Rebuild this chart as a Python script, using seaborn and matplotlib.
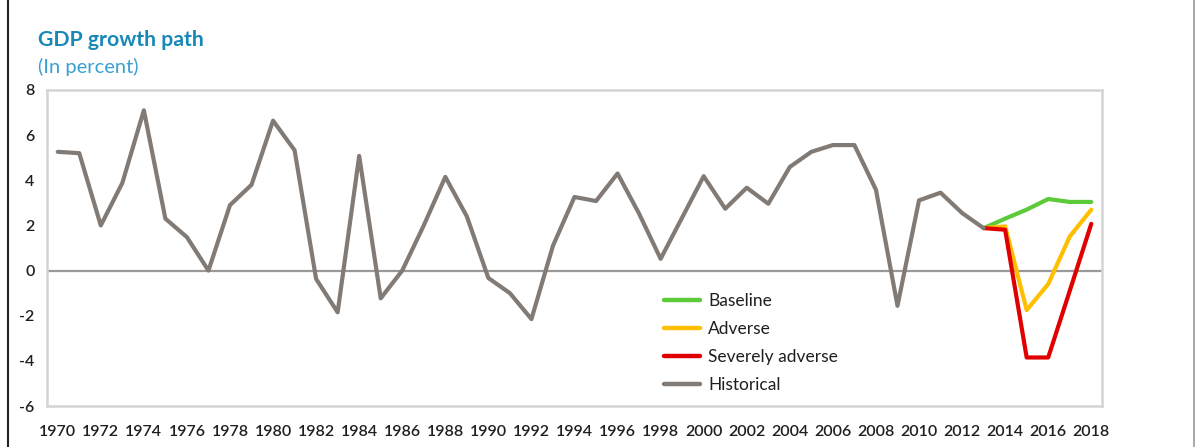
import matplotlib
matplotlib.use("Agg")
import matplotlib.pyplot as plt
from matplotlib.lines import Line2D
import seaborn as sns
import pandas as pd

hist_years = list(range(1970, 2014))
historical = [5.26, 5.2, 2.0, 3.88, 7.1, 2.3, 1.48, 0.0, 2.9, 3.8,
              6.64, 5.33, -0.37, -1.85, 5.08, -1.23, 0.0, 2.0, 4.15, 2.4,
              -0.33, -1.0, -2.15, 1.1, 3.26, 3.08, 4.3, 2.52, 0.52, 2.35,
              4.18, 2.74, 3.67, 2.96, 4.59, 5.26, 5.56, 5.56, 3.58, -1.56,
              3.11, 3.45, 2.55, 1.88]
scen_years = list(range(2013, 2019))
baseline = [1.88, 2.3, 2.7, 3.17, 3.04, 3.04]
adverse = [1.88, 1.96, -1.75, -0.6, 1.51, 2.7]
severe = [1.88, 1.81, -3.85, -3.85, -0.9, 2.07]

series_names = ["Baseline", "Adverse", "Severely adverse", "Historical"]
colors = {"Baseline": "#5ccb3a", "Adverse": "#ffbe00",
          "Severely adverse": "#e00000", "Historical": "#827a75"}
yticks = list(range(-6, 9, 2))
xticks = list(range(1970, 2019, 2))

frames = [
    pd.DataFrame({"year": scen_years, "value": baseline, "series": "Baseline"}),
    pd.DataFrame({"year": scen_years, "value": adverse, "series": "Adverse"}),
    pd.DataFrame({"year": scen_years, "value": severe, "series": "Severely adverse"}),
    pd.DataFrame({"year": hist_years, "value": historical, "series": "Historical"}),
]
df = pd.concat(frames, ignore_index=True)

sns.set_style("white")
plt.rcParams["font.family"] = ["Lato", "DejaVu Sans"]

fig = plt.figure(figsize=(11.98, 4.47), dpi=100)
ax = fig.add_axes([0.0392, 0.0917, 0.8807, 0.707])

ax.axhline(0, color="#999999", lw=1.6, zorder=1)
sns.lineplot(data=df, x="year", y="value", hue="series", hue_order=series_names,
             palette=colors, linewidth=3.0, ax=ax, legend=False, sort=False,
             estimator=None, zorder=3)

ax.set_xlim(1969.5, 2018.5)
ax.set_ylim(-6, 8)
ax.set_xticks(xticks)
ax.set_xticklabels([str(x) for x in xticks])
ax.set_yticks(yticks)
ax.set_yticklabels([str(y) for y in yticks])
ax.tick_params(axis="both", length=0, labelsize=11.5, labelcolor="#1f1f1f")
ax.tick_params(axis="x", pad=14)
ax.tick_params(axis="y", pad=9)
for lbl in ax.get_xticklabels() + ax.get_yticklabels():
    lbl.set_fontweight("semibold")
ax.set_xlabel("")
ax.set_ylabel("")
for sp in ax.spines.values():
    sp.set_color("#d4d4d4")
    sp.set_linewidth(1.8)

handles = [Line2D([0], [0], color=colors[n], lw=3.2) for n in series_names]
leg = ax.legend(handles, series_names, loc="upper left",
                bbox_to_anchor=(0.578, 0.378), frameon=False, fontsize=12.5,
                handlelength=2.1, handletextpad=0.45, labelspacing=0.68,
                borderaxespad=0)
for t in leg.get_texts():
    t.set_color("#1f1f1f")

fig.text(0.032, 0.91, "GDP growth path", fontsize=15.3, fontweight="bold",
         color="#1888b8", va="center", ha="left")
fig.text(0.032, 0.85, "(In percent)", fontsize=14.5, color="#3aa0d0",
         va="center", ha="left")

fig.add_artist(Line2D([0.0065, 0.0065], [0, 1], transform=fig.transFigure,
                      color="#222222", lw=1.5))
fig.add_artist(Line2D([0.9965, 0.9965], [0, 1], transform=fig.transFigure,
                      color="#9a9a9a", lw=1.2))

fig.savefig("out.png", dpi=100)
